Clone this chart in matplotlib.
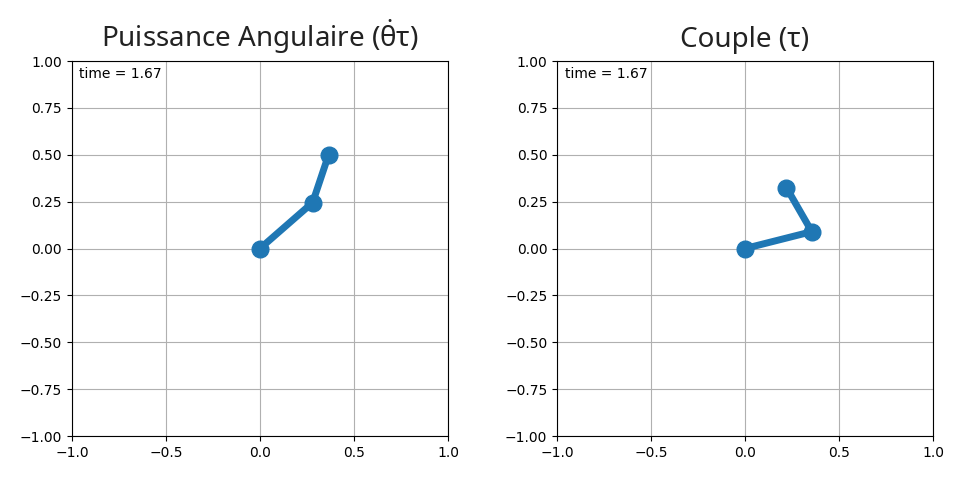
import matplotlib
matplotlib.use("Agg")
import matplotlib.pyplot as plt

plt.rcParams["mathtext.fontset"] = "custom"
plt.rcParams["mathtext.rm"] = "Noto Sans"
plt.rcParams["mathtext.it"] = "Noto Sans"

# pendulum state at t = 1.67
titles = [r"Puissance Angulaire ($\mathrm{\dot{\theta}\tau}$)", "Couple (\u03c4)"]
time_label = "time = 1.67"
xs_power = [0.0, 0.28, 0.365]
ys_power = [0.0, 0.245, 0.50]
xs_torque = [0.0, 0.355, 0.22]
ys_torque = [0.0, 0.09, 0.325]
ticks = [-1.0, -0.5, 0.0, 0.5, 1.0]
yticks = [-1.0, -0.75, -0.5, -0.25, 0.0, 0.25, 0.5, 0.75, 1.0]

fig = plt.figure(figsize=(9.75, 4.82), dpi=100)
ax1 = fig.add_axes([0.0738, 0.0954, 0.3857, 0.778])
ax2 = fig.add_axes([0.5713, 0.0954, 0.3857, 0.778])

for ax, title, xs, ys in [(ax1, titles[0], xs_power, ys_power),
                          (ax2, titles[1], xs_torque, ys_torque)]:
    ax.plot(xs, ys, "o-", color="#1f77b4", lw=5, markersize=12)
    ax.set_xlim(-1, 1)
    ax.set_ylim(-1, 1)
    ax.set_xticks(ticks)
    ax.set_yticks(yticks)
    ax.grid(True)
    ax.text(0.02, 0.955, time_label, transform=ax.transAxes)
    ax.set_title(title, fontsize=20, color="#222222",
                 family=["Noto Sans", "DejaVu Sans"], pad=10)

fig.savefig("out.png", dpi=100)
